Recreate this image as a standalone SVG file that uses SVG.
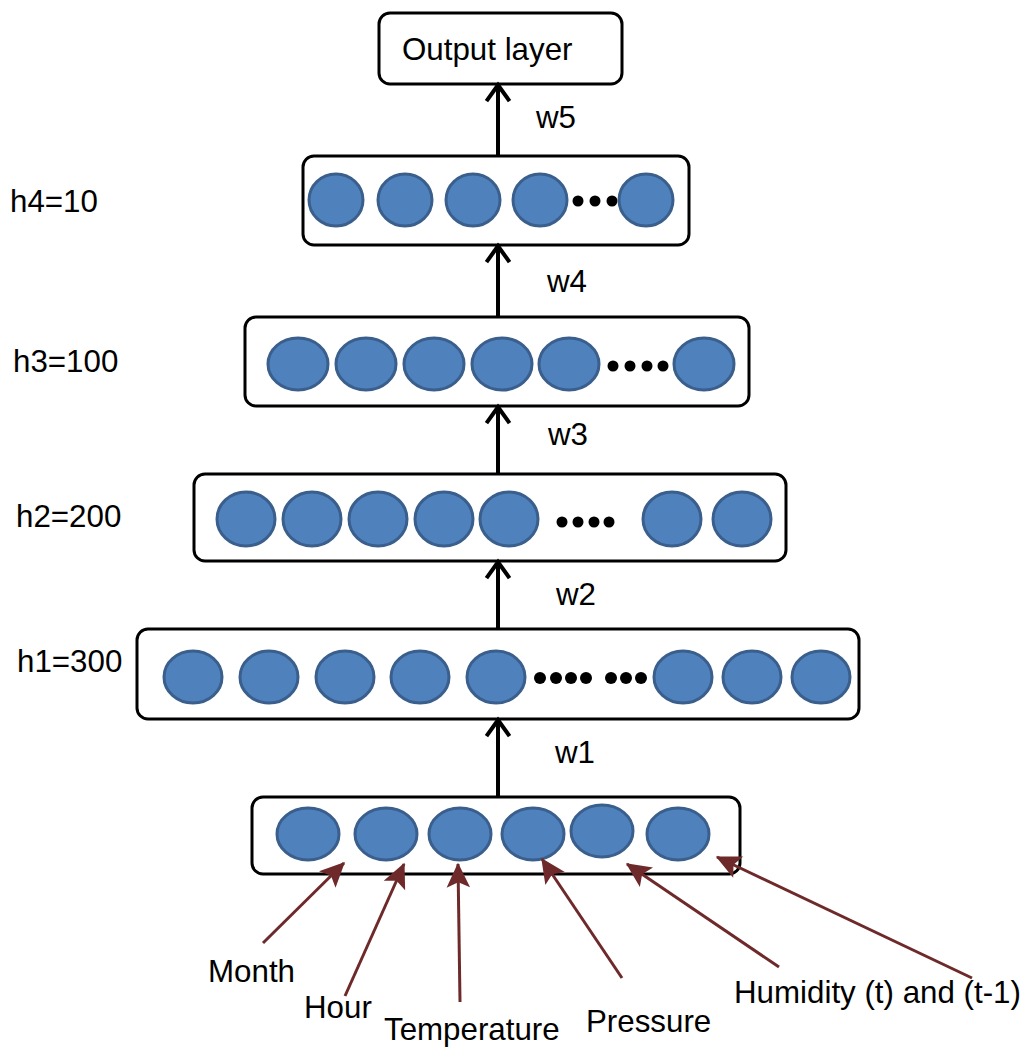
<svg xmlns="http://www.w3.org/2000/svg" width="1028" height="1048" viewBox="0 0 1028 1048">
  <style>
    .box { fill: #ffffff; stroke: #000000; stroke-width: 3; }
    .unit { fill: #4f81bd; stroke: #3a5f8c; stroke-width: 3; }
    .dot { fill: #000000; }
    .lbl { font-family: "Liberation Sans", Arial, sans-serif; font-size: 31.3px; fill: #000000; }
    .up { stroke: #000000; stroke-width: 4; fill: none; marker-end: url(#chevron); }
    .feed { stroke: #6e2a2a; stroke-width: 3; fill: none; marker-end: url(#wedge); }
  </style>
  <defs>
    <marker id="chevron" markerUnits="userSpaceOnUse" markerWidth="30" markerHeight="30" viewBox="-17 -13 21 26" refX="0" refY="0" orient="auto">
      <path d="M-14,-10 L0,0 L-14,10" fill="none" stroke="#000000" stroke-width="3.5" stroke-linejoin="miter"/>
    </marker>
    <marker id="wedge" markerUnits="userSpaceOnUse" markerWidth="30" markerHeight="30" viewBox="-21 -11 23 22" refX="0" refY="0" orient="auto">
      <path d="M1,0 L-18,-9 L-14,0 L-18,9 Z" fill="#6e2a2a"/>
    </marker>
  </defs>

  <!-- output layer -->
  <g id="output">
    <rect class="box" x="379" y="13" width="243" height="71" rx="11"/>
    <text class="lbl" x="402" y="60">Output layer</text>
  </g>

  <!-- hidden layer 4 -->
  <g id="h4">
    <rect class="box" x="303" y="156" width="386" height="89" rx="11"/>
    <ellipse class="unit" cx="336" cy="200" rx="27" ry="26"/>
    <ellipse class="unit" cx="405" cy="200" rx="27" ry="26"/>
    <ellipse class="unit" cx="473" cy="200" rx="27" ry="26"/>
    <ellipse class="unit" cx="540" cy="200" rx="27" ry="26"/>
    <circle class="dot" cx="578" cy="201" r="5.5"/>
    <circle class="dot" cx="595" cy="201" r="5.5"/>
    <circle class="dot" cx="612" cy="201" r="5.5"/>
    <ellipse class="unit" cx="646" cy="200" rx="27" ry="26"/>
  </g>

  <!-- hidden layer 3 -->
  <g id="h3">
    <rect class="box" x="245" y="317" width="504" height="89" rx="11"/>
    <ellipse class="unit" cx="298" cy="364" rx="30" ry="26"/>
    <ellipse class="unit" cx="366" cy="364" rx="30" ry="26"/>
    <ellipse class="unit" cx="434" cy="364" rx="30" ry="26"/>
    <ellipse class="unit" cx="502" cy="364" rx="30" ry="26"/>
    <ellipse class="unit" cx="569" cy="364" rx="30" ry="26"/>
    <circle class="dot" cx="613" cy="366" r="5.5"/>
    <circle class="dot" cx="630" cy="366" r="5.5"/>
    <circle class="dot" cx="647" cy="366" r="5.5"/>
    <circle class="dot" cx="663" cy="366" r="5.5"/>
    <ellipse class="unit" cx="704" cy="364" rx="30" ry="26"/>
  </g>

  <!-- hidden layer 2 -->
  <g id="h2">
    <rect class="box" x="194" y="474" width="592" height="87" rx="11"/>
    <ellipse class="unit" cx="246" cy="519" rx="29" ry="27"/>
    <ellipse class="unit" cx="312" cy="519" rx="29" ry="27"/>
    <ellipse class="unit" cx="378" cy="519" rx="29" ry="27"/>
    <ellipse class="unit" cx="444" cy="519" rx="29" ry="27"/>
    <ellipse class="unit" cx="509" cy="519" rx="29" ry="27"/>
    <circle class="dot" cx="562" cy="522" r="5.5"/>
    <circle class="dot" cx="578" cy="522" r="5.5"/>
    <circle class="dot" cx="594" cy="522" r="5.5"/>
    <circle class="dot" cx="609" cy="522" r="5.5"/>
    <ellipse class="unit" cx="672" cy="519" rx="29" ry="27"/>
    <ellipse class="unit" cx="742" cy="519" rx="29" ry="27"/>
  </g>

  <!-- hidden layer 1 -->
  <g id="h1">
    <rect class="box" x="137" y="629" width="722" height="90" rx="11"/>
    <ellipse class="unit" cx="193" cy="677" rx="29" ry="26"/>
    <ellipse class="unit" cx="269" cy="677" rx="29" ry="26"/>
    <ellipse class="unit" cx="345" cy="677" rx="29" ry="26"/>
    <ellipse class="unit" cx="420" cy="677" rx="29" ry="26"/>
    <ellipse class="unit" cx="496" cy="677" rx="29" ry="26"/>
    <circle class="dot" cx="540" cy="678" r="6"/>
    <circle class="dot" cx="556" cy="678" r="6"/>
    <circle class="dot" cx="571" cy="678" r="6"/>
    <circle class="dot" cx="586" cy="678" r="6"/>
    <circle class="dot" cx="611" cy="678" r="6"/>
    <circle class="dot" cx="626" cy="678" r="6"/>
    <circle class="dot" cx="641" cy="678" r="6"/>
    <ellipse class="unit" cx="683" cy="677" rx="29" ry="26"/>
    <ellipse class="unit" cx="752" cy="677" rx="29" ry="26"/>
    <ellipse class="unit" cx="821" cy="677" rx="29" ry="26"/>
  </g>

  <!-- input layer -->
  <g id="input">
    <rect class="box" x="252" y="797" width="488" height="77" rx="11"/>
    <ellipse class="unit" cx="308" cy="834" rx="31" ry="26"/>
    <ellipse class="unit" cx="386" cy="834" rx="31" ry="26"/>
    <ellipse class="unit" cx="460" cy="834" rx="31" ry="26"/>
    <ellipse class="unit" cx="533" cy="834" rx="31" ry="26"/>
    <ellipse class="unit" cx="602" cy="831" rx="31" ry="26"/>
    <ellipse class="unit" cx="678" cy="834" rx="31" ry="26"/>
  </g>

  <!-- layer sizes -->
  <g id="sizes">
    <text class="lbl" x="10" y="212">h4=10</text>
    <text class="lbl" x="13" y="372">h3=100</text>
    <text class="lbl" x="16" y="527">h2=200</text>
    <text class="lbl" x="17" y="672">h1=300</text>
  </g>

  <!-- input features -->
  <g id="features">
    <text class="lbl" x="208" y="982">Month</text>
    <text class="lbl" x="304" y="1018">Hour</text>
    <text class="lbl" x="384" y="1040">Temperature</text>
    <text class="lbl" x="586" y="1032">Pressure</text>
    <text class="lbl" x="734" y="1003">Humidity (t) and (t-1)</text>
  </g>

  <!-- connectors -->
  <g id="connectors">
    <line class="up" x1="498" y1="156" x2="498" y2="85"/>
    <line class="up" x1="498" y1="317" x2="498" y2="246"/>
    <line class="up" x1="498" y1="474" x2="498" y2="407"/>
    <line class="up" x1="498" y1="629" x2="498" y2="562"/>
    <line class="up" x1="498" y1="797" x2="498" y2="720"/>
    <text class="lbl" x="536" y="128">w5</text>
    <text class="lbl" x="547" y="292">w4</text>
    <text class="lbl" x="548" y="445">w3</text>
    <text class="lbl" x="556" y="605">w2</text>
    <text class="lbl" x="555" y="763">w1</text>

    <line class="feed" x1="263" y1="943" x2="344" y2="863"/>
    <line class="feed" x1="345" y1="996" x2="404" y2="864"/>
    <line class="feed" x1="460" y1="1002" x2="458" y2="864"/>
    <line class="feed" x1="622" y1="978" x2="542" y2="859"/>
    <line class="feed" x1="779" y1="967" x2="627" y2="864"/>
    <line class="feed" x1="972" y1="978" x2="717" y2="857"/>
  </g>
</svg>
